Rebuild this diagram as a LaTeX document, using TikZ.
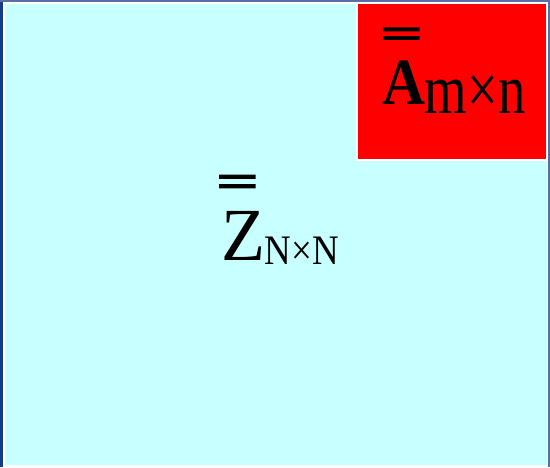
\documentclass[tikz,border=0pt]{standalone}
\usepackage{fontspec}
\setmainfont{Liberation Serif}
\usetikzlibrary{positioning}
\definecolor{panelcyan}{HTML}{C8FFFF}
\definecolor{edgeblue}{HTML}{143C8C}
\definecolor{edgegrey}{HTML}{5A6EA5}

\begin{document}
\begin{tikzpicture}[
    x=1pt, y=-1pt,
    matbox/.style={rectangle, inner sep=0pt, outer sep=0pt, anchor=north west},
    bigmat/.style={matbox, fill=panelcyan},
    smallmat/.style={matbox, fill=red, draw=white, line width=2pt},
    lbl/.style={inner sep=0pt, outer sep=0pt, anchor=base west, text=black}
]

%% --- Frame ---
\useasboundingbox (0,0) rectangle (550,467);
\fill[white] (0,0) rectangle (550,467);
\fill[edgeblue] (0,0) rectangle (2.5,467);
\fill[edgegrey] (0,0) rectangle (550,1.5);
\fill[edgegrey] (548,0) rectangle (550,467);

%% --- Matrices ---
\node[bigmat, minimum width=542pt, minimum height=461pt] (zmat) at (5,4) {};
\node[smallmat, minimum width=190pt, minimum height=157pt] (amat) at (357,3) {};

%% --- Labels ---
\node[lbl] (zbar) at (216,197)
    {\scalebox{1.05}[0.65]{\fontsize{72}{72}\selectfont\bfseries\addfontfeature{FakeBold=2}=}};
\node[lbl] (zname) at (221,260)
    {\scalebox{0.96}[1]{\fontsize{75}{75}\selectfont Z}\raisebox{-4pt}{\scalebox{0.88}[1]{\fontsize{42}{42}\selectfont N×N}}};

\node[lbl] (abar) at (380,48)
    {\scalebox{1.05}[0.6]{\fontsize{72}{72}\selectfont\bfseries\addfontfeature{FakeBold=2}=}};
\node[lbl] (aname) at (382,104)
    {\scalebox{0.9}[1]{\fontsize{66}{66}\selectfont\bfseries A}\raisebox{-9.3pt}{\scalebox{0.77}[1]{\fontsize{71}{71}\selectfont m×n}}};

\end{tikzpicture}
\end{document}
